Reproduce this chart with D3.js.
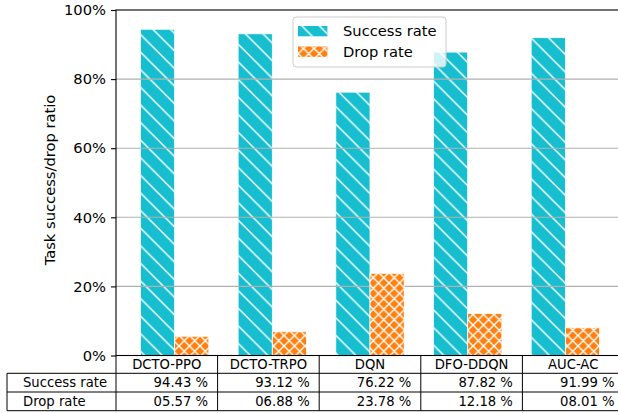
<!DOCTYPE html>
<html>
<head>
<meta charset="utf-8">
<script src="https://cdn.jsdelivr.net/npm/d3@7"></script>
<style>
  body { margin: 0; background: #fff; }
  svg { display: block; font-family: "DejaVu Sans", sans-serif; }
</style>
</head>
<body>
<div id="my_dataviz"></div>
<script>
// data
const categories = ["DCTO-PPO", "DCTO-TRPO", "DQN", "DFO-DDQN", "AUC-AC"];
const successRate = [94.43, 93.12, 76.22, 87.82, 91.99];
const dropRate = [5.57, 6.88, 23.78, 12.18, 8.01];
const rowLabels = ["Success rate", "Drop rate"];
const yTicks = [0, 20, 40, 60, 80, 100];

// set the dimensions and margins of the graph
const margin = { top: 10, right: -6, bottom: 57.5, left: 116 },
  width = 618 - margin.left - margin.right,
  height = 413 - margin.top - margin.bottom;

const cyan = "#17becf", orange = "#ff7f0e";
const barW = 0.35;
const fmt = d3.format("05.2f");

const svgRoot = d3.select("#my_dataviz")
  .append("svg")
  .attr("width", 618)
  .attr("height", 413);

// hatch patterns
const defs = svgRoot.append("defs");
const P = 17.6, Q = 10.5;
defs.append("pattern")
  .attr("id", "hatchBack")
  .attr("patternUnits", "userSpaceOnUse")
  .attr("width", P).attr("height", P)
  .append("path")
  .attr("d", `M0,0L${P},${P}M${-P / 2},${P / 2}L${P / 2},${P * 1.5}M${P / 2},${-P / 2}L${P * 1.5},${P / 2}`)
  .attr("stroke", "#fff").attr("stroke-width", 1.4);
const cross = defs.append("pattern")
  .attr("id", "hatchCross")
  .attr("patternUnits", "userSpaceOnUse")
  .attr("width", Q).attr("height", Q);
cross.append("path")
  .attr("d", `M0,0L${Q},${Q}M${-Q / 2},${Q / 2}L${Q / 2},${Q * 1.5}M${Q / 2},${-Q / 2}L${Q * 1.5},${Q / 2}` +
    `M0,${Q}L${Q},0M${-Q / 2},${Q / 2}L${Q / 2},${-Q / 2}M${Q / 2},${Q * 1.5}L${Q * 1.5},${Q / 2}`)
  .attr("stroke", "#fff").attr("stroke-width", 1.4);

const svg = svgRoot.append("g")
  .attr("transform", `translate(${margin.left},${margin.top})`);

// scales
const x = d3.scaleLinear().domain([-0.6, 4.6]).range([0, width]);
const y = d3.scaleLinear().domain([0, 100]).range([height, 0]);

function drawBars(vals, off, color, pat) {
  const g = svg.append("g");
  vals.forEach(function (v, i) {
    const x0 = x(i + off), x1 = x(i + off + barW);
    g.append("rect")
      .attr("x", x0).attr("y", y(v))
      .attr("width", x1 - x0).attr("height", y(0) - y(v))
      .attr("fill", color);
    g.append("rect")
      .attr("x", x0).attr("y", y(v))
      .attr("width", x1 - x0).attr("height", y(0) - y(v))
      .attr("fill", `url(#${pat})`)
      .attr("stroke", "#fff").attr("stroke-width", 0.8);
  });
}

// success bars sit under the grid
drawBars(successRate, -barW, cyan, "hatchBack");

// grid
svg.append("g")
  .selectAll("line")
  .data(yTicks.filter(d => d > 0 && d < 100))
  .enter()
  .append("line")
  .attr("x1", 0).attr("x2", width)
  .attr("y1", d => y(d)).attr("y2", d => y(d))
  .attr("stroke", "#b0b0b0").attr("stroke-width", 1.1);

// drop bars above the grid
drawBars(dropRate, 0, orange, "hatchCross");

// Y axis
const yAxis = svg.append("g")
  .call(d3.axisLeft(y).tickValues(yTicks).tickFormat(d => d + "%").tickSize(5).tickPadding(5));
yAxis.select(".domain").remove();
yAxis.selectAll("line").attr("stroke", "#000").attr("stroke-width", 1.1);
yAxis.selectAll("text").attr("font-size", "14.7px").attr("font-family", "DejaVu Sans").attr("fill", "#000");

// frame
svg.append("rect")
  .attr("x", 0).attr("y", 0)
  .attr("width", width).attr("height", height)
  .attr("fill", "none").attr("stroke", "#000").attr("stroke-width", 1.1);

// y label
svgRoot.append("text")
  .attr("transform", "translate(55,180) rotate(-90)")
  .attr("text-anchor", "middle")
  .attr("font-size", "14.7px")
  .text("Task success/drop ratio");

// table under the axes
const colW = width / categories.length;
const rowY = [height, height + 17.8, height + 36.5, height + 55.2];
const tbl = svg.append("g").attr("font-size", "13.2px");
function hl(x1, x2, yy) {
  tbl.append("line").attr("x1", x1).attr("x2", x2).attr("y1", yy).attr("y2", yy)
    .attr("stroke", "#000").attr("stroke-width", 1);
}
function vl(xx, y1, y2) {
  tbl.append("line").attr("x1", xx).attr("x2", xx).attr("y1", y1).attr("y2", y2)
    .attr("stroke", "#000").attr("stroke-width", 1);
}
hl(-109, width, rowY[1]);
hl(-109, width, rowY[2]);
hl(-109, width, rowY[3]);
vl(-109, rowY[1], rowY[3]);
for (let i = 0; i <= categories.length; i++) vl(i * colW, rowY[0], rowY[3]);

categories.forEach(function (c, i) {
  tbl.append("text")
    .attr("x", i * colW + colW / 2).attr("y", rowY[0] + 13.3)
    .attr("text-anchor", "middle").text(c);
});
[successRate, dropRate].forEach(function (vals, r) {
  tbl.append("text")
    .attr("x", -93).attr("y", rowY[r + 1] + 13.8)
    .text(rowLabels[r]);
  vals.forEach(function (v, i) {
    tbl.append("text")
      .attr("x", (i + 1) * colW - 9.5).attr("y", rowY[r + 1] + 13.8)
      .attr("text-anchor", "end").text(fmt(v) + " %");
  });
});

// legend
const lg = svgRoot.append("g").attr("transform", "translate(293,17)");
lg.append("rect")
  .attr("width", 153).attr("height", 50).attr("rx", 3)
  .attr("fill", "#fff").attr("fill-opacity", 0.8)
  .attr("stroke", "#cccccc").attr("stroke-width", 1);
[[cyan, "hatchBack", "Success rate"], [orange, "hatchCross", "Drop rate"]].forEach(function (d, i) {
  const yy = 9 + i * 20.5;
  lg.append("rect").attr("x", 5).attr("y", yy).attr("width", 29.4).attr("height", 10.3).attr("fill", d[0]);
  lg.append("rect").attr("x", 5).attr("y", yy).attr("width", 29.4).attr("height", 10.3).attr("fill", `url(#${d[1]})`);
  lg.append("text")
    .attr("x", 50).attr("y", yy + 10.3)
    .attr("font-size", "14.7px")
    .text(d[2]);
});
</script>
</body>
</html>
